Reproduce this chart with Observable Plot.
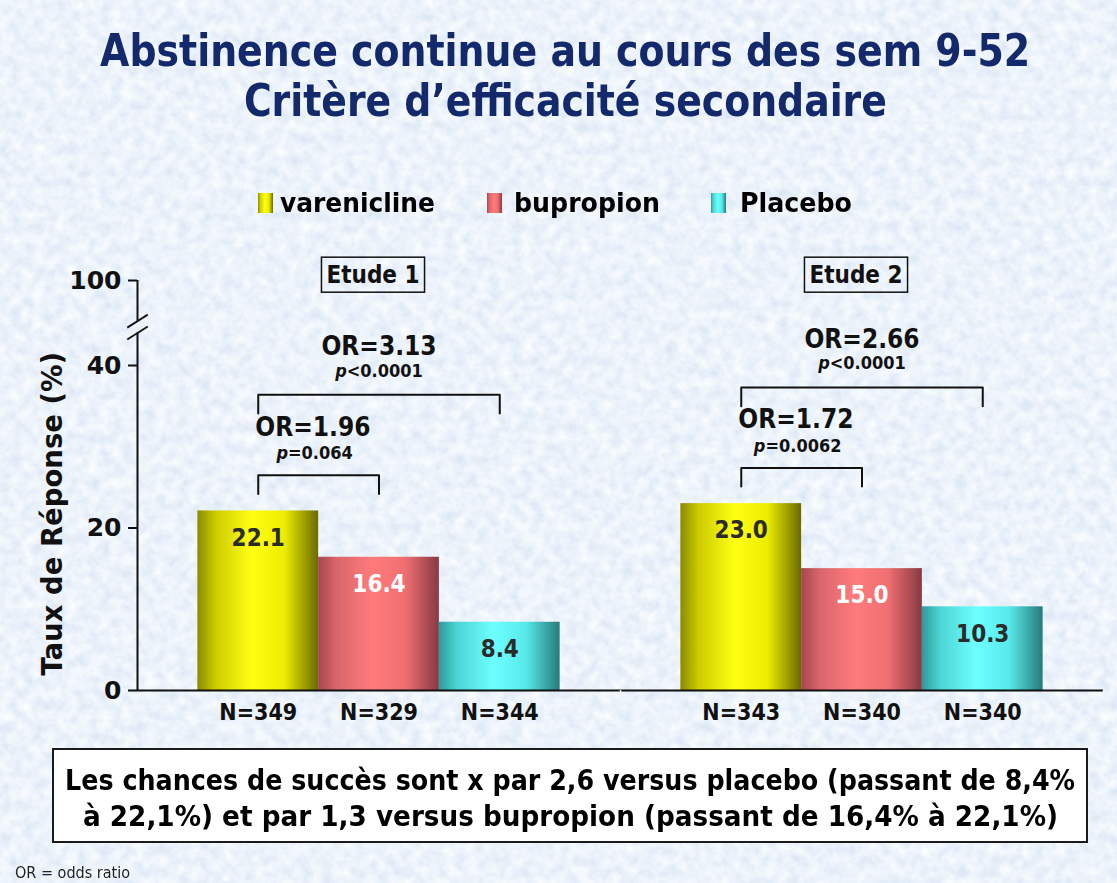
<!DOCTYPE html>
<html lang="fr">
<head>
<meta charset="utf-8">
<title>Abstinence continue au cours des sem 9-52</title>
<script src="https://cdn.jsdelivr.net/npm/d3@7"></script>
<script src="https://cdn.jsdelivr.net/npm/@observablehq/plot@0.6"></script>
<style>
  html, body { margin: 0; padding: 0; background: #d3e3f4; }
  #page { position: relative; width: 1117px; height: 883px; overflow: hidden; }
  #bg { position: absolute; left: 0; top: 0; }
  .abs { position: absolute; white-space: nowrap; line-height: 1;
         font-family: "DejaVu Sans Condensed", "DejaVu Sans", sans-serif; font-weight: bold; }
  .fit { display: inline-block; }
  #chart { position: absolute; left: 0; top: 0; width: 1117px; height: 883px; }
  #chart svg { position: absolute; left: 0; top: 0; }
  #chart svg [aria-label^="y-axis"] { font-size: 25px; font-weight: bold;
         font-family: "DejaVu Sans", sans-serif; }
  #chart svg [aria-label^="y-axis"] path, #chart svg [aria-label^="y-axis"] line { stroke-width: 2px; }
</style>
</head>
<body>
<div id="page">
  <svg id="bg" width="1117" height="883">
    <filter id="tex" x="0" y="0" width="100%" height="100%">
      <feTurbulence type="fractalNoise" baseFrequency="0.09" numOctaves="3" seed="7"/>
      <feColorMatrix type="matrix" values="0.34 0 0 0 0.67  0.26 0 0 0 0.765  0.12 0 0 0 0.90  0 0 0 0 1"/>
    </filter>
    <rect width="1117" height="883" filter="url(#tex)"/>
  </svg>
  <div id="chart"></div>
</div>
<script>
// ---------------- data ----------------
const titleLines = ["Abstinence continue au cours des sem 9-52", "Critère d’efficacité secondaire"];
const studies = ["Etude 1", "Etude 2"];
const treatments = ["varenicline", "bupropion", "Placebo"];
const rates = [[22.1, 16.4, 8.4], [23.0, 15.0, 10.3]];
const nLabels = [["N=349", "N=329", "N=344"], ["N=343", "N=340", "N=340"]];
const orVsBupropion = ["OR=1.96", "OR=1.72"];
const pVsBupropion = ["p=0.064", "p=0.0062"];
const orVsPlacebo = ["OR=3.13", "OR=2.66"];
const pVsPlacebo = ["p<0.0001", "p<0.0001"];
const yTicks = [0, 20, 40, 100];
const yLabel = "Taux de Réponse (%)";
const noteLines = [
  "Les chances de succès sont x par 2,6 versus placebo (passant de 8,4%",
  "à 22,1%) et par 1,3 versus bupropion (passant de 16,4% à 22,1%)"
];
const footnote = "OR = odds ratio";

// ---------------- styles ----------------
const FONT = '"DejaVu Sans Condensed", "DejaVu Sans", sans-serif';
const WIDE_FONT = '"DejaVu Sans", sans-serif';
const gradStops = [
  [[0, "#8a8a00"], [0.15, "#cccc00"], [0.45, "#ffff14"], [0.72, "#eded00"], [1, "#6a6a00"]],
  [[0, "#a4474f"], [0.15, "#d9656c"], [0.45, "#ff7b7b"], [0.72, "#ef6f72"], [1, "#873a42"]],
  [[0, "#2e9a9a"], [0.15, "#4ed4d4"], [0.45, "#6dffff"], [0.72, "#58eaea"], [1, "#267a7a"]]
];
const valueFill = ["#2b2b2b", "#ffffff", "#2b2b2b"];
const titleColor = "#13296b";
const ink = "#111";

// ---------------- HTML text (title, legend, note) ----------------
const page = document.getElementById("page");
function addText(text, {left, top, width, size, color = "#000", align = "left", weight = "bold", target}) {
  const div = document.createElement("div");
  div.className = "abs";
  Object.assign(div.style, {left: left + "px", top: top + "px", fontSize: size + "px", color, textAlign: align, fontWeight: weight});
  if (width != null) div.style.width = width + "px";
  const span = document.createElement("span");
  span.className = "fit";
  span.textContent = text;
  span.style.transformOrigin = align === "center" ? "50% 50%" : "0 50%";
  div.appendChild(span);
  page.appendChild(div);
  if (target) {
    const w = span.getBoundingClientRect().width;
    span.style.transform = `scaleX(${target / w})`;
  }
  return div;
}
addText(titleLines[0], {left: 0, top: 28, width: 1130, size: 45, color: titleColor, align: "center", target: 930});
addText(titleLines[1], {left: 0, top: 78, width: 1130, size: 45, color: titleColor, align: "center", target: 643});

const legendSwatchX = [258, 487, 711];
const legendTextX = [280, 514, 740];
const legendTextW = [155, 146, 112];
treatments.forEach((t, i) => {
  const sw = document.createElement("div");
  sw.style.cssText = `position:absolute;left:${legendSwatchX[i]}px;top:193px;width:15px;height:20px;` +
    `background:linear-gradient(90deg,${gradStops[i].map(([o, c]) => `${c} ${o * 100}%`).join(",")})`;
  page.appendChild(sw);
  addText(t, {left: legendTextX[i], top: 190, size: 26, target: legendTextW[i]});
});

const box = document.createElement("div");
box.style.cssText = "position:absolute;left:52px;top:748px;width:1036px;height:95px;box-sizing:border-box;" +
  "background:#fff;border:2px solid #1a1a1a;";
page.appendChild(box);
addText(noteLines[0], {left: 52, top: 767, width: 1036, size: 28, align: "center", target: 1010});
addText(noteLines[1], {left: 52, top: 803, width: 1036, size: 28, align: "center", target: 975});
addText(footnote, {left: 15, top: 865, size: 16, weight: "normal", color: "#222", target: 115});

// ---------------- chart: broken y axis drawn as two stacked panels ----------------
const W = 1117, H = 883;
const mL = 137, mR = 14;
const plotBottom = 690, y40 = 365, y100 = 280;   // pixel layout of the axis
const pxPerUnit = (plotBottom - y40) / 40;
const lowerTop = 44, upperBottom = 95;           // where the axis is broken
const slotsPerStudy = treatments.length + 1;
const nSlots = studies.length * slotsPerStudy;

const bars = studies.flatMap((s, si) => treatments.map((t, ti) => ({
  study: s, si, treatment: t, ti, rate: rates[si][ti], n: nLabels[si][ti], pos: si * slotsPerStudy + ti + 1
})));
const brackets = studies.flatMap((s, si) => {
  const first = si * slotsPerStudy + 1;
  const top = d3.max(rates[si]);
  return [
    {id: si + "b", kind: "small", from: first, to: first + 1, level: top + 4.4, or: orVsBupropion[si], p: pVsBupropion[si]},
    {id: si + "p", kind: "big", from: first, to: first + 2, level: top + 14.3, or: orVsPlacebo[si], p: pVsPlacebo[si]}
  ];
});
const legLen = 2.3;
const bracketPts = brackets.flatMap(b => [
  {id: b.id, x: b.from, y: b.level - legLen}, {id: b.id, x: b.from, y: b.level},
  {id: b.id, x: b.to, y: b.level}, {id: b.id, x: b.to, y: b.level - legLen}
]);
const small = brackets.filter(b => b.kind === "small");
const big = brackets.filter(b => b.kind === "big");
const slashDx = 0.085, slashDy = 0.8;
const txt = {fontWeight: "bold", fontFamily: FONT, fill: ink};

// lower panel: 0 .. lowerTop
const lowerMarks = [];
treatments.forEach((t, ti) => {
  const d = bars.filter(b => b.ti === ti);
  lowerMarks.push(Plot.rect(d, {x1: b => b.pos - 0.5, x2: b => b.pos + 0.5, y1: 0, y2: "rate", fill: `url(#grad${ti})`}));
  lowerMarks.push(Plot.text(d, {x: "pos", y: "rate", text: b => b.rate.toFixed(1), dy: 27, ...txt, fill: valueFill[ti], fontSize: 24}));
});
lowerMarks.push(
  Plot.ruleY([0], {x1: 0, x2: nSlots, strokeWidth: 2, stroke: ink}),
  Plot.ruleX([slotsPerStudy, nSlots], {y1: 0, y2: -1, stroke: "#eef5fc", strokeWidth: 1.5}),
  Plot.ruleX([0], {y1: 0, y2: lowerTop, strokeWidth: 2, stroke: ink}),
  Plot.link([lowerTop], {x1: -slashDx, x2: slashDx, y1: d => d - slashDy, y2: d => d + slashDy, strokeWidth: 1.8, stroke: ink}),
  Plot.text(bars, {x: "pos", y: 0, text: "n", dy: 22, ...txt, fontSize: 23}),
  Plot.line(bracketPts, {x: "x", y: "y", z: "id", stroke: ink, strokeWidth: 2}),
  Plot.text(small, {x: "from", y: "level", text: "or", textAnchor: "start", dx: -3, dy: -48, ...txt, fontSize: 26}),
  Plot.text(small, {x: b => (b.from + b.to) / 2, y: "level", text: "p", dx: -4, dy: -22, ...txt, fontSize: 18}),
  Plot.text(big, {x: b => (b.from + b.to) / 2, y: "level", text: "or", dy: -48, ...txt, fontSize: 26}),
  Plot.text(big, {x: b => (b.from + b.to) / 2, y: "level", text: "p", dy: -24, ...txt, fontSize: 18}),
  Plot.text([yLabel], {frameAnchor: "left", textAnchor: "middle", lineAnchor: "middle", rotate: -90, dx: -84, dy: 2,
    ...txt, fontFamily: WIDE_FONT, fontSize: 27.5})
);
const lowerSvg = Plot.plot({
  width: W, height: H, marginLeft: mL, marginRight: mR,
  marginTop: plotBottom - lowerTop * pxPerUnit, marginBottom: H - plotBottom,
  style: {background: "transparent", overflow: "visible", color: ink},
  x: {domain: [0, nSlots], axis: null},
  y: {domain: [0, lowerTop], ticks: yTicks.filter(t => t <= lowerTop), tickSize: 9, tickPadding: 7, tickFormat: d => String(d), label: null},
  marks: lowerMarks
});

// upper panel: upperBottom .. 100
const upperSvg = Plot.plot({
  width: W, height: H, marginLeft: mL, marginRight: mR,
  marginTop: y100, marginBottom: H - (y100 + (100 - upperBottom) * pxPerUnit),
  style: {background: "transparent", overflow: "visible", color: ink},
  x: {domain: [0, nSlots], axis: null},
  y: {domain: [upperBottom, 100], ticks: yTicks.filter(t => t >= upperBottom), tickSize: 9, tickPadding: 7, tickFormat: d => String(d), label: null},
  marks: [
    Plot.ruleX([0], {y1: upperBottom, y2: 100, strokeWidth: 2, stroke: ink}),
    Plot.link([upperBottom], {x1: -slashDx, x2: slashDx, y1: d => d - slashDy, y2: d => d + slashDy, strokeWidth: 1.8, stroke: ink}),
    Plot.text(studies, {x: (d, i) => i * slotsPerStudy + 2, frameAnchor: "top", lineAnchor: "middle", dx: -6, dy: -5, ...txt, fontSize: 24})
  ]
});
const chart = document.getElementById("chart");
chart.appendChild(lowerSvg);
chart.appendChild(upperSvg);

// gradients
const defs = d3.select(lowerSvg).insert("defs", ":first-child");
gradStops.forEach((stops, i) => {
  const g = defs.append("linearGradient").attr("id", "grad" + i).attr("x1", 0).attr("x2", 1).attr("y1", 0).attr("y2", 0);
  stops.forEach(([o, c]) => g.append("stop").attr("offset", o).attr("stop-color", c));
});
// italic "p" in the p-values
const pTexts = new Set([...pVsBupropion, ...pVsPlacebo]);
d3.select(lowerSvg).selectAll("text").filter(function () { return pTexts.has(this.textContent); }).each(function () {
  const t = this.textContent;
  this.textContent = "";
  d3.select(this).append("tspan").attr("font-style", "italic").text(t[0]);
  d3.select(this).append("tspan").text(t.slice(1));
});
// boxes round the study labels
const studySet = new Set(studies);
d3.select(upperSvg).selectAll("text").filter(function () { return studySet.has(this.textContent); }).each(function () {
  const bb = this.getBBox();
  const r = document.createElementNS("http://www.w3.org/2000/svg", "rect");
  r.setAttribute("x", bb.x - 5); r.setAttribute("y", bb.y - 4);
  r.setAttribute("width", bb.width + 10); r.setAttribute("height", bb.height + 7);
  r.setAttribute("fill", "none"); r.setAttribute("stroke", ink); r.setAttribute("stroke-width", 1.5);
  if (this.getAttribute("transform")) r.setAttribute("transform", this.getAttribute("transform"));
  this.parentNode.insertBefore(r, this);
});
</script>
</body>
</html>
